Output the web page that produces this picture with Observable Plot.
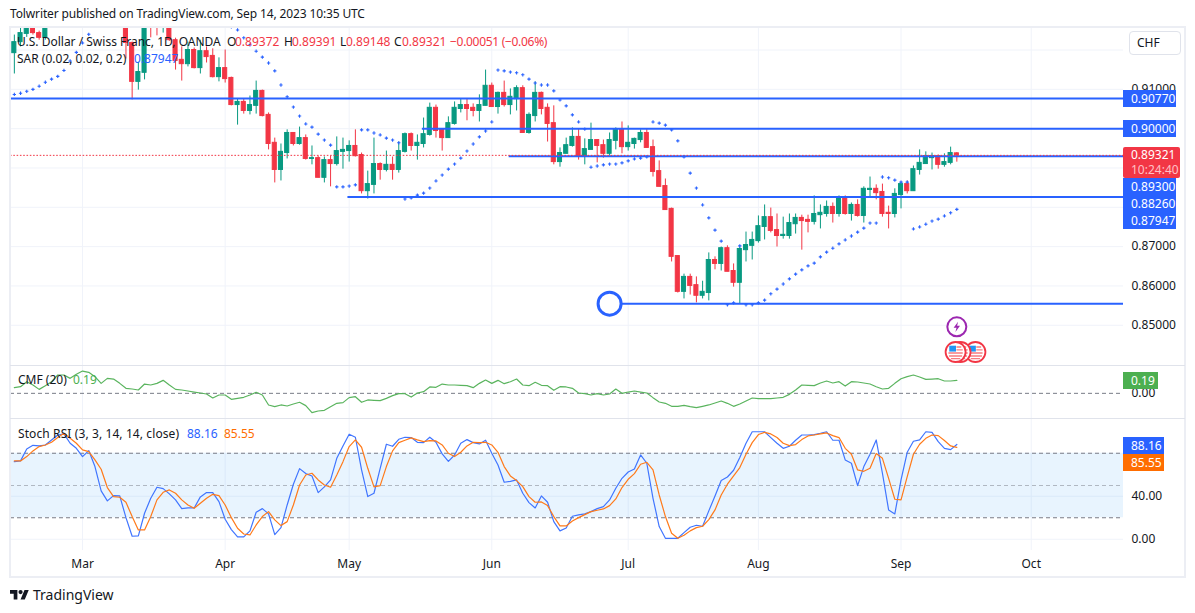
<!DOCTYPE html>
<html><head><meta charset="utf-8">
<script src="https://cdn.jsdelivr.net/npm/d3@7"></script>
<script src="https://cdn.jsdelivr.net/npm/@observablehq/plot@0.6"></script>
<style>
html,body{margin:0;padding:0;background:#fff;width:1195px;height:613px;overflow:hidden}
body{position:relative;font-family:"Noto Sans",sans-serif;font-size:12px;color:#131722}
.pane{position:absolute;left:0}
.pane svg{display:block;background:transparent}
.t{position:absolute;white-space:pre;line-height:14px}
.tag{position:absolute;left:1123px;color:#fff;white-space:pre;line-height:17px;padding-left:8px;box-sizing:border-box}
</style></head><body>
<script>
const opens=[.9192,.9220,.9241,.9275,.9243,.9231,.9270,.9300,.9325,.9310,.9340,.9355,.9345,.9335,.9385,.9365,.9390,.9330,.9290,.9218,
.9119,.9142,.9280,.9285,.9262,.9275,.9225,.9175,.9164,.9200,.9154,.9197,.9185,.9131,.9154,.9129,.9060,.9068,.9045,.9058,
.9096,.9035,.8964,.8895,.8938,.8989,.8961,.8976,.8923,.8925,.8875,.8920,.8910,.8941,.8943,.8956,.8933,.8841,.8857,.8910,
.8895,.8908,.8895,.8941,.8986,.8956,.8961,.8984,.9053,.8997,.8976,.9012,.9050,.9060,.9053,.9045,.9058,.9109,.9055,.9091,
.9060,.9075,.9103,.8989,.9032,.9091,.9053,.9014,.8915,.8936,.8956,.8979,.8928,.8946,.8971,.8958,.8936,.8969,.8997,.8953,
.8961,.8971,.8989,.8953,.8892,.8854,.8796,.8676,.8585,.8623,.8602,.8575,.8582,.8666,.8656,.8696,.8638,.8608,.8691,.8702,
.8714,.8750,.8775,.8742,.8727,.8727,.8757,.8773,.8768,.8763,.8780,.8783,.8801,.8783,.8824,.8783,.8806,.8778,.8844,.8847,
.8839,.8786,.8783,.8831,.8859,.8841,.8895,.8910,.8925,.8930,.8908,.8913,.89372];
const highs=[.9238,.9258,.9285,.9285,.9248,.9285,.9320,.9335,.9345,.9350,.9365,.9370,.9375,.9395,.9405,.9400,.9395,.9350,.9300,.9220,
.9169,.9290,.9300,.9295,.9295,.9285,.9230,.9208,.9220,.9205,.9225,.9208,.9203,.9180,.9200,.9131,.9075,.9075,.9083,.9121,
.9098,.9040,.8976,.8961,.8997,.8989,.9004,.8984,.8956,.8930,.8928,.8930,.8979,.8976,.8969,.8997,.8938,.8892,.8976,.8913,
.8943,.8928,.8966,.8989,.8989,.8984,.9027,.9065,.9060,.8997,.9030,.9068,.9075,.9075,.9063,.9086,.9149,.9116,.9093,.9121,
.9101,.9109,.9109,.9040,.9119,.9093,.9063,.9058,.8951,.8976,.9002,.8999,.8974,.9014,.8971,.8971,.8989,.9002,.9017,.9007,
.8976,.8997,.8999,.8971,.8918,.8872,.8798,.8676,.8630,.8630,.8623,.8612,.8684,.8674,.8699,.8702,.8656,.8699,.8737,.8737,
.8778,.8806,.8798,.8783,.8775,.8783,.8783,.8780,.8780,.8829,.8806,.8816,.8811,.8829,.8829,.8811,.8819,.8852,.8877,.8857,
.8859,.8803,.8847,.8864,.8867,.8905,.8946,.8941,.8938,.8933,.8936,.8953,.89391];
const lows=[.9139,.9208,.9232,.9238,.9225,.9225,.9265,.9280,.9295,.9300,.9320,.9330,.9320,.9325,.9350,.9345,.9320,.9280,.9177,.9073,
.9098,.9124,.9231,.9236,.9243,.9222,.9149,.9121,.9157,.9152,.9139,.9167,.9129,.9119,.9116,.9058,.9009,.9037,.9035,.9037,
.9030,.8946,.8862,.8867,.8923,.8956,.8958,.8920,.8908,.8875,.8862,.8852,.8905,.8897,.8915,.8928,.8834,.8821,.8834,.8869,
.8890,.8869,.8887,.8938,.8943,.8920,.8951,.8981,.8976,.8943,.8976,.9009,.9040,.9020,.9030,.9017,.9058,.9055,.9037,.9055,
.9035,.9045,.8989,.8986,.9017,.9035,.8966,.8908,.8902,.8936,.8953,.8920,.8908,.8946,.8913,.8925,.8930,.8946,.8936,.8943,
.8948,.8964,.8951,.8877,.8852,.8793,.8661,.8582,.8567,.8577,.8557,.8567,.8562,.8641,.8638,.8636,.8597,.8554,.8661,.8666,
.8709,.8717,.8735,.8699,.8719,.8719,.8732,.8691,.8735,.8755,.8745,.8775,.8760,.8775,.8780,.8765,.8775,.8760,.8826,.8819,
.8775,.8745,.8773,.8796,.8834,.8841,.8882,.8910,.8895,.8897,.8902,.8908,.89148];
const closes=[.9220,.9243,.9270,.9243,.9231,.9270,.9300,.9325,.9310,.9340,.9355,.9345,.9335,.9385,.9365,.9390,.9330,.9290,.9218,.9119,
.9144,.9275,.9265,.9262,.9285,.9225,.9172,.9164,.9200,.9154,.9197,.9182,.9131,.9154,.9126,.9060,.9068,.9045,.9060,.9096,
.9032,.8961,.8895,.8941,.8989,.8961,.8976,.8923,.8925,.8875,.8920,.8910,.8943,.8946,.8956,.8930,.8841,.8859,.8910,.8895,
.8908,.8895,.8943,.8986,.8956,.8964,.8986,.9053,.8994,.8976,.9014,.9053,.9060,.9050,.9045,.9060,.9109,.9055,.9091,.9060,
.9081,.9103,.8989,.9035,.9091,.9050,.9012,.8915,.8938,.8958,.8979,.8928,.8948,.8971,.8956,.8936,.8971,.8997,.8953,.8964,
.8974,.8989,.8951,.8890,.8852,.8793,.8674,.8585,.8623,.8600,.8575,.8585,.8666,.8656,.8696,.8636,.8608,.8694,.8704,.8717,
.8752,.8775,.8740,.8727,.8730,.8760,.8773,.8765,.8763,.8783,.8786,.8801,.8783,.8824,.8783,.8806,.8778,.8847,.8847,.8836,
.8783,.8783,.8834,.8859,.8841,.8897,.8913,.8930,.8930,.8908,.8915,.8938,.89321];
const sar=[.9087,.9090,.9095,.9100,.9108,.9118,.9126,.9133,.9148,.9172,.9194,.9218,.9240,
null,null,null,null,null,null,null,null,null,null,null,null,null,null,null,null,null,null,null,null,null,null,
.9259,.9251,.9231,.9213,.9197,.9182,.9167,.9147,.9111,.9081,.9055,.9032,.9012,.9004,.8986,.8971,.8958,.8852,.8852,.8854,.8857,
.8997,.8997,.8989,.8984,.8976,.8971,.8964,.8821,.8824,.8831,.8836,.8849,.8867,.8882,.8897,.8910,.8925,.8943,.8961,.8979,.8994,.9017,
.9149,.9147,.9144,.9142,.9137,.9126,.9116,.9111,.9111,.9096,.9073,.9058,.9035,.9017,.8999,.8902,.8905,.8908,.8910,.8910,.8913,.8918,.8923,.8925,.8928,
.9017,.9014,.9009,.8997,.8969,.8928,.8887,.8849,.8806,.8773,.8742,.8714,.8552,.8557,.8702,.8552,.8552,.8557,.8564,.8580,.8592,.8605,.8618,.8630,.8641,.8651,.8658,.8674,.8686,.8696,.8707,.8717,.8727,.8737,.8747,.8760,.8760,
.8877,.8875,.8869,.8864,.8864,.8745,.8750,.8757,.8765,.8770,.8778,.8786,.87947];
const cmf=[.083,.097,.170,.122,.058,.112,.170,.268,.268,.219,.278,.326,.307,.244,.146,.219,.209,.146,.073,.063,
.049,.136,.122,.146,.190,.122,.058,.049,.034,.019,.005,-.010,-.068,-.024,-.024,-.088,-.073,-.058,-.024,.015,
-.024,-.170,-.195,-.170,-.185,-.156,-.131,-.180,-.282,-.258,-.248,-.195,-.146,-.136,-.063,-.049,-.131,-.097,-.102,-.107,
-.073,-.034,-.005,-.005,-.054,.005,.024,.093,.088,.136,.122,.122,.117,.112,.083,.146,.195,.146,.190,.141,
.170,.209,.122,.112,.161,.117,.112,.044,.097,.093,.073,.005,-.005,-.024,-.005,-.024,-.010,.063,0,.019,
.034,.019,.005,-.063,-.127,-.146,-.190,-.190,-.175,-.195,-.209,-.190,-.170,-.141,-.112,-.146,-.190,-.156,-.112,-.068,
-.078,-.078,-.078,-.068,-.058,-.015,.049,.122,.117,.112,.151,.180,.151,.170,.107,.170,.166,.151,.136,.097,
.063,.073,.146,.214,.244,.268,.239,.205,.209,.214,.180,.180,.19];
const stochK=[72.2,72.9,84.0,87.4,86.8,87.7,92.4,97.0,98.0,89.3,84.6,76.9,82.5,67.6,45.0,35.7,40.6,40.3,20.1,2.8,
3.1,24.2,38.1,48.4,47.1,42.2,36.6,28.5,29.1,29.1,39.4,43.4,43.4,35.0,18.6,9.0,2.2,2.2,7.8,25.1,
28.5,23.6,4.3,10.8,31.9,51.2,65.7,61.1,58.9,43.4,48.7,55.2,75.3,86.8,97.7,94.9,64.5,39.7,42.8,66.0,
88.4,86.5,93.0,94.9,94.6,90.2,89.9,94.9,90.2,79.4,72.5,78.4,89.3,92.7,89.9,88.7,92.1,80.0,69.1,53.0,
53.9,55.2,42.8,34.1,29.1,40.3,34.4,16.4,7.8,10.5,21.4,22.6,23.6,25.7,28.5,
30.4,36.6,47.4,56.7,62.6,65.4,78.4,70.7,38.1,11.8,0.9,0.9,0.9,6.2,11.2,13.0,12.1,26.4,40.3,54.6,
57.9,64.2,76.0,89.3,100,100,100,94.6,89.3,84.6,86.5,92.1,97.0,97.0,97.4,98.6,100,92.1,92.1,73.8,
70.7,49.9,67.6,79.1,92.4,61.4,27.3,23.6,55.2,80.9,91.2,92.4,100,99.5,90.8,84.6,83.4,88.16];
const stochD=[72.9,72.9,76.9,82.2,86.2,87.7,90.2,94.6,98.6,93.9,89.3,83.1,81.5,73.8,65.1,48.1,39.7,39.1,34.4,21.1,
8.7,8.7,21.1,36.6,43.7,45.9,42.8,36.6,31.9,28.8,33.5,38.1,41.8,40.6,31.9,20.1,10.2,4.9,4.0,13.3,
21.1,25.7,18.0,12.7,16.4,31.9,50.5,59.8,61.4,55.2,50.5,48.4,59.8,72.2,86.2,92.4,85.6,66.0,48.7,49.9,
67.6,82.2,89.9,92.1,94.3,92.4,90.8,91.8,91.5,87.7,80.0,76.9,80.9,86.8,90.2,89.9,90.2,87.7,80.9,67.6,
58.9,54.6,49.0,39.7,34.4,34.7,31.3,21.1,12.4,12.4,17.0,20.1,22.9,25.7,27.0,
28.2,31.3,37.5,48.1,55.8,61.1,69.8,71.6,64.5,41.2,21.1,5.6,0.9,3.7,7.8,10.8,12.1,18.3,27.3,41.2,
51.2,58.9,66.7,79.1,89.9,97.4,99.5,98.0,94.6,89.3,87.1,88.1,92.7,96.1,97.0,98.0,98.9,96.4,94.6,84.6,
79.1,64.5,63.2,66.0,79.7,75.3,56.7,37.2,36.6,58.3,79.1,88.4,93.9,97.0,96.4,91.8,86.8,85.55];
const monthBars=[11,34,54,77,99,120,143,164];
const monthNames=["Mar","Apr","May","Jun","Jul","Aug","Sep","Oct"];
const priceGrid=[.85,.86,.87,.88,.89,.90,.91,.92];
const priceLabels=[.85,.86,.87,.91];
const levelValues=[.9077,.9000,.8930,.8826,.8555];
const levelStarts=[-0.62,65.8,79.8,53.8,98];
const lastPrice=.89321;
const xMin=-0.62,xMax=178.88;

const BLUE="#2962ff",UP="#089981",DOWN="#f23645",GRID="#f0f3fa",ORANGE="#ff6d00",GREEN="#4caf50";
const FONT='"Noto Sans",sans-serif';
const bars=opens.map((o,i)=>({i,o,h:highs[i],l:lows[i],c:closes[i],col:closes[i]>=o?UP:DOWN}));
const idx=a=>a.map((v,i)=>({i,v})).filter(d=>d.v!=null);
const xScale={domain:[xMin,xMax],axis:null};
const base={width:1195,marginLeft:10,marginRight:72,x:xScale,style:{fontFamily:FONT,fontSize:"12px",color:"#131722",background:"transparent",overflow:"visible"}};
const monthGrid=()=>Plot.ruleX(monthBars,{stroke:GRID,strokeWidth:1});

const unit=size=>Math.sqrt(size/Math.PI)/9.5;
function bolt(){return {draw(c,size){const k=unit(size);
 [[1.2,-5.2],[-3.2,0.9],[-0.3,0.9],[-1.4,5.2],[3.2,-1.1],[0.3,-1.1]].forEach((p,j)=>j?c.lineTo(p[0]*k,p[1]*k):c.moveTo(p[0]*k,p[1]*k));c.closePath();}};}
function stripes(){return {draw(c,size){const k=unit(size);
 [[-6.8,0.2,13.6,1.5],[-6.2,3,12.4,1.5],[-4.4,5.6,8.8,1.2],[0.8,-5.4,4.6,1.3],[0.8,-2.7,6,1.3]].forEach(([x,y,w,h])=>{c.rect(x*k,y*k,w*k,h*k);});}};}
function canton(){return {draw(c,size){const k=unit(size);c.rect(-6*k,-6*k,6.4*k,5.6*k);}};}

const eventBars=[155,152.6,151.8];
const eventLevel=.8432, flashLevel=.8496;
const eventMarks=eventBars.flatMap(b=>[
  Plot.dot([0],{x:b,y:eventLevel,r:10,stroke:DOWN,strokeWidth:1.8,fill:"#fff"}),
  Plot.dot([0],{x:b,y:eventLevel,r:10,symbol:stripes(),fill:"#f77c80"}),
  Plot.dot([0],{x:b,y:eventLevel,r:10,symbol:canton(),fill:"#2196f3"})
]);

const pricePlot=Plot.plot({...base,height:365,marginTop:28,marginBottom:0,
 y:{domain:[.83977,.92547],axis:null},
 marks:[
  monthGrid(),
  Plot.ruleY(priceGrid,{stroke:GRID,strokeWidth:1}),
  Plot.ruleX(bars,{x:"i",y1:"l",y2:"h",stroke:"col",strokeWidth:1,clip:true}),
  Plot.rect(bars,{x1:d=>d.i-.33,x2:d=>d.i+.33,y1:"o",y2:"c",fill:"col",stroke:"col",strokeWidth:1,clip:true}),
  Plot.ruleY(levelValues,{x1:(d,i)=>levelStarts[i],x2:xMax,stroke:BLUE,strokeWidth:2}),
  Plot.dot([0],{x:96,y:levelValues[4],r:11.5,stroke:BLUE,strokeWidth:3,fill:"#fff"}),
  Plot.ruleY([lastPrice],{x1:xMin,x2:xMax,stroke:DOWN,strokeWidth:1,strokeDasharray:"1.6 1.7"}),
  Plot.dot(idx(sar),{x:"i",y:"v",symbol:"plus",r:1.15,stroke:BLUE,strokeWidth:1.1,clip:true}),
  Plot.dot([0],{x:152,y:flashLevel,r:9.5,stroke:"#9c27b0",strokeWidth:2,fill:"#fff"}),
  Plot.dot([0],{x:152,y:flashLevel,symbol:bolt(),r:9.5,fill:"#9c27b0"}),
  ...eventMarks,
  Plot.axisY({anchor:"right",ticks:priceLabels,tickSize:0,tickPadding:8,tickFormat:d3.format(".5f"),label:null,fill:"#131722",fontSize:12})
 ]});

const cmfPlot=Plot.plot({...base,height:53,marginTop:0,marginBottom:0,
 y:{domain:[-.368,.407],axis:null},
 marks:[
  monthGrid(),
  Plot.ruleY([0],{stroke:"#787b86",strokeWidth:1,strokeDasharray:"4 3"}),
  Plot.line(idx(cmf),{x:"i",y:"v",stroke:"#5ab45e",strokeWidth:1.2,clip:true,curve:"linear"}),
  Plot.axisY({anchor:"right",ticks:[0],tickSize:0,tickPadding:8,tickFormat:d3.format(".2f"),label:null,fill:"#131722",fontSize:12})
 ]});

const stochPlot=Plot.plot({...base,height:159,marginTop:0,marginBottom:27,
 y:{domain:[-10.465,112.335],axis:null},
 marks:[
  monthGrid(),
  Plot.ruleY([0,40],{stroke:GRID,strokeWidth:1}),
  Plot.rect([0],{x1:xMin,x2:xMax,y1:20,y2:80,fill:"#2196f3",fillOpacity:.1}),
  Plot.ruleY([80,20],{stroke:"#787b86",strokeWidth:1,strokeDasharray:"4 3"}),
  Plot.ruleY([50],{stroke:"#787b86",strokeOpacity:.5,strokeWidth:1,strokeDasharray:"4 3"}),
  Plot.line(idx(stochK),{x:"i",y:"v",stroke:"#4075ff",strokeWidth:1.2,clip:true}),
  Plot.line(idx(stochD),{x:"i",y:"v",stroke:"#ff7a1a",strokeWidth:1.2,clip:true}),
  Plot.axisY({anchor:"right",ticks:[0,40],tickSize:0,tickPadding:8,tickFormat:d3.format(".2f"),label:null,fill:"#131722",fontSize:12}),
  Plot.axisX({ticks:monthBars,tickSize:0,tickPadding:9,tickFormat:(d,i)=>monthNames[monthBars.indexOf(d)],label:null,fill:"#131722",fontSize:12})
 ]});

function pane(svg,top){const d=document.createElement("div");d.className="pane";d.style.top=top+"px";d.append(svg);document.body.append(d);}
pane(pricePlot,0);pane(cmfPlot,365);pane(stochPlot,418);

function box(l,t,w,h,css){const d=document.createElement("div");d.style.cssText=`position:absolute;left:${l}px;top:${t}px;width:${w}px;height:${h}px;box-sizing:border-box;${css}`;document.body.append(d);return d;}
const EDGE="#e0e3eb";
box(9,26,1177,552,`border:2px solid #eceef4`);
box(10,365,1175,1,`background:${EDGE}`);
box(10,418,1175,1,`background:${EDGE}`);

function text(s,l,cy,col,size){const d=document.createElement("div");d.className="t";d.textContent=s;d.style.left=l+"px";d.style.top=(cy-7)+"px";if(col)d.style.color=col;if(size)d.style.fontSize=size+"px";document.body.append(d);return d;}
text("Tolwriter published on TradingView.com, Sep 14, 2023 10:35 UTC",10,14).style.letterSpacing="-0.13px";
text("U.S. Dollar / Swiss Franc, 1D, OANDA",17,42);
[["O",227,"0.89372",235],["H",284,"0.89391",292],["L",340,"0.89148",346],["C",394,"0.89321",402]].forEach(([a,x,b,y])=>{text(a,x,42);text(b,y,42,DOWN);});
text("−0.00051 (−0.06%)",450,42,DOWN).style.letterSpacing="-0.3px";
text("SAR (0.02, 0.02, 0.2)",17,59);
text("0.87947",134,59,BLUE);
text("CMF (20)",18,380);text("0.19",73,380,GREEN);
text("Stoch RSI (3, 3, 14, 14, close)",18,434).style.letterSpacing="0.1px";text("88.16",187,434,BLUE);text("85.55",224,434,ORANGE);
text("TradingView",33,595,null,14);

function tag(s,t,h,w,bg){const d=document.createElement("div");d.className="tag";d.textContent=s;d.style.cssText+=`top:${t}px;height:${h}px;width:${w}px;background:${bg}`;document.body.append(d);return d;}
tag("0.90770",90,17,53,BLUE);
tag("0.90000",120,17,53,BLUE);
box(1123,147,57,31,`background:${DOWN};border-radius:2px`);
text("0.89321",1131,155,"#fff");
text("10:24:40",1131,170,"#ffc0c5");
tag("0.89300",178,17,53,BLUE);
tag("0.88260",195,17,53,BLUE);
tag("0.87947",212,17,53,BLUE);
tag("0.19",372,17,35,GREEN);
tag("88.16",437,17,41,BLUE);
tag("85.55",454,17,41,ORANGE);

box(1129,31,52,24,`border:1px solid ${EDGE};border-radius:4px;background:#fff`);
text("CHF",1137,43);

const ns="http://www.w3.org/2000/svg";
const logo=document.createElementNS(ns,"svg");logo.setAttribute("viewBox","0 4 36 18");logo.setAttribute("width","19");logo.setAttribute("height","9.5");logo.style.cssText="position:absolute;left:10px;top:590px";
logo.innerHTML='<path fill="#131722" d="M14 22H7V11H0V4h14v18zM28 22h-8l7.5-18h8L28 22z"/><circle fill="#131722" cx="20" cy="8" r="4"/>';
document.body.append(logo);
</script>
</body></html>
